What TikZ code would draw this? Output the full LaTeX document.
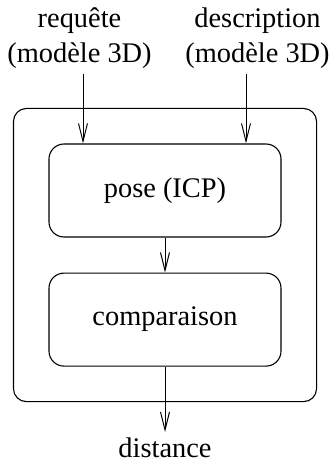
\documentclass[tikz,border=0pt]{standalone}
\usepackage{fontspec}
\setmainfont{Liberation Serif}
\usetikzlibrary{arrows.meta}
\usetikzlibrary{positioning, fit}
\tikzset{
  every node/.style={font=\fontsize{14.2}{17.5}\selectfont},
  bloc/.style={draw, line width=0.55pt, rounded corners=7.5pt, minimum width=116pt, minimum height=46.5pt},
  cadre/.style={draw, line width=0.55pt, rounded corners=6.5pt, inner sep=17.5pt},
  etiq/.style={align=center, inner sep=2.5pt},
  fleche/.style={-{Straight Barb[length=9pt,width=4.5pt]}, line width=0.5pt}
}

\begin{document}
\begin{tikzpicture}[x=0.5pt, y=0.5pt]
\useasboundingbox (0,0) rectangle (330,461);

\node[bloc] (pose) at (165,270.5) {pose (ICP)};
\node[bloc, below=17.5pt of pose] (comp) {comparaison};
\node[cadre, fit=(pose)(comp)] (boite) {};

\node[etiq, anchor=south] (req) at (79.5,387) {requête\\(modèle 3D)};
\node[etiq, anchor=south] (desc) at (257.5,387) {description\\(modèle 3D)};
\node[etiq, anchor=north] (dist) at (165,29) {distance};

\coordinate (e1) at ([xshift=-41pt]pose.north);
\coordinate (e2) at ([xshift=40.5pt]pose.north);

\draw[fleche] (req.south -| e1) -- (e1);
\draw[fleche] (desc.south -| e2) -- (e2);
\draw[fleche] (pose) -- (comp);
\draw[fleche] (comp.south) -- (comp.south |- dist.north);
\end{tikzpicture}
\end{document}
